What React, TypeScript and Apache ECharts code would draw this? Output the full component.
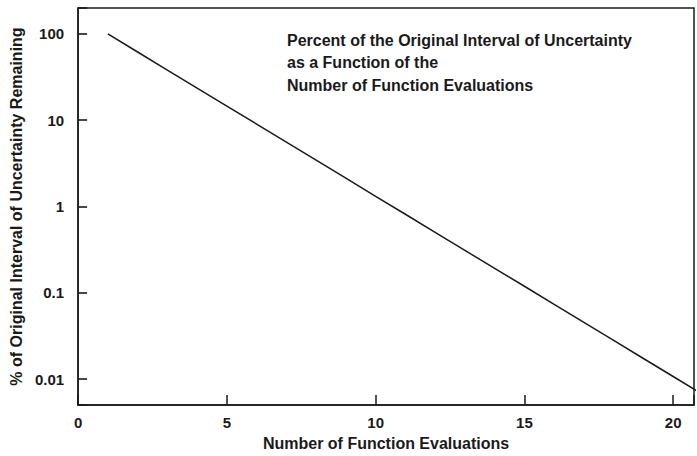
import React, { useEffect, useRef } from "react";
import * as echarts from "echarts";

// Golden-section search: fraction of the starting interval still left after n evaluations
const evaluations = [1, 2, 3, 4, 5, 6, 7, 8, 9, 10, 11, 12, 13, 14, 15, 16, 17, 18, 19, 20, 21];
const percentRemaining = [
  100, 61.8, 38.2, 23.6, 14.6, 9.02, 5.57, 3.44, 2.13, 1.31, 0.813, 0.502, 0.31, 0.192, 0.119,
  0.0733, 0.0453, 0.028, 0.0173, 0.0107, 0.0066,
];
const yTickLabels = ["0.01", "0.1", "1", "10", "100"];
const xTickLabels = ["0", "5", "10", "15", "20"];
const titleLines = [
  "Percent of the Original Interval of Uncertainty",
  "as a Function of the",
  "Number of Function Evaluations",
];

const FONT = '"Liberation Sans", Arial, Helvetica, sans-serif';
const INK = "#1a1a1a";

export default function App() {
  const ref = useRef<HTMLDivElement>(null);

  useEffect(() => {
    if (!ref.current) return;
    const chart = echarts.init(ref.current, undefined, { renderer: "svg" });

    const data = evaluations.map((n, i) => [n, percentRemaining[i]]);

    chart.setOption({
      animation: false,
      backgroundColor: "#ffffff",
      grid: {
        left: 77,
        top: 8,
        right: -3,
        bottom: 49,
        show: true,
        borderColor: INK,
        borderWidth: 1.5,
        backgroundColor: "transparent",
      },
      xAxis: {
        type: "value",
        min: 0,
        max: 20.7,
        interval: 5,
        name: "Number of Function Evaluations",
        nameLocation: "middle",
        nameGap: 30,
        nameTextStyle: { fontFamily: FONT, fontWeight: "bold", fontSize: 16, color: INK },
        axisLine: { show: true, lineStyle: { color: INK, width: 1.5 } },
        axisTick: { show: true, inside: true, length: 10, lineStyle: { color: INK, width: 1.5 } },
        axisLabel: {
          fontFamily: FONT,
          fontWeight: "bold",
          fontSize: 15,
          color: INK,
          margin: 10,
          formatter: (v: number) => {
            const s = String(Math.round(v));
            return Math.abs(v - Math.round(v)) < 1e-6 && xTickLabels.includes(s) ? s : "";
          },
        },
        splitLine: { show: false },
      },
      yAxis: {
        type: "log",
        logBase: 10,
        min: 0.005,
        max: 200,
        name: "% of Original Interval of Uncertainty Remaining",
        nameLocation: "middle",
        nameGap: 49,
        nameRotate: 90,
        nameTextStyle: { fontFamily: FONT, fontWeight: "bold", fontSize: 16, color: INK },
        axisLine: { show: true, lineStyle: { color: INK, width: 1.5 } },
        axisTick: { show: true, inside: true, length: 9, lineStyle: { color: INK, width: 1.6 } },
        axisLabel: {
          fontFamily: FONT,
          fontWeight: "bold",
          fontSize: 15,
          color: INK,
          margin: 14,
          formatter: (v: number) => {
            const hit = yTickLabels.find((l) => Math.abs(Number(l) - v) / Number(l) < 1e-6);
            return hit ?? "";
          },
        },
        splitLine: { show: false },
      },
      series: [
        {
          type: "line",
          data,
          showSymbol: false,
          symbol: "none",
          clip: true,
          lineStyle: { color: INK, width: 1.5 },
        },
      ],
      graphic: titleLines.map((t, i) => ({
        type: "text",
        left: 287,
        top: 32 + i * 22.5,
        style: {
          text: t,
          fontFamily: FONT,
          fontWeight: "bold",
          fontSize: 16,
          fill: INK,
        },
      })),
    });

    return () => chart.dispose();
  }, []);

  return (
    <div
      ref={ref}
      style={{ position: "fixed", left: 0, top: 0, width: 697, height: 456 }}
    />
  );
}
